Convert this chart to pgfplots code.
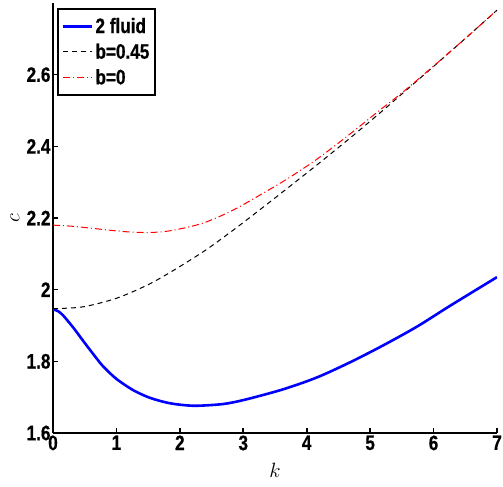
\documentclass[border=0pt]{standalone}
\usepackage{pgfplots}
\pgfplotsset{compat=1.18}
\usepackage{fontspec}
\setmainfont{Liberation Sans}
\newfontfamily\figfont[FakeStretch=0.82, BoldFeatures={FakeBold=0.6}]{Liberation Sans}

% phase speed c against wavenumber k
\pgfplotstableread{
k c
0    1.945
0.08 1.940
0.16 1.928
0.32 1.894
0.48 1.856
0.64 1.819
0.79 1.786
1.0  1.751
1.27 1.719
1.53 1.698
1.79 1.685
2.0  1.679
2.26 1.676
2.69 1.681
3.05 1.694
3.63 1.722
4.16 1.755
4.68 1.797
5.2  1.844
5.74 1.897
6.26 1.955
7.0  2.035
}\twofluid

\pgfplotstableread{
k c
0    1.947
0.47 1.952
1.0  1.976
1.5  2.014
1.92 2.056
2.42 2.112
2.9  2.174
3.37 2.238
3.71 2.285
4.21 2.355
4.71 2.427
5.16 2.494
5.5  2.546
6.0  2.623
6.5  2.701
7.0  2.780
}\bfortyfive

\pgfplotstableread{
k c
0    2.180
0.3  2.177
0.63 2.171
1.0  2.164
1.3  2.160
1.6  2.160
1.9  2.166
2.37 2.186
2.84 2.222
3.32 2.270
3.71 2.311
4.16 2.364
4.68 2.434
5.16 2.502
5.5  2.549
6.0  2.624
6.5  2.701
7.0  2.780
}\bzero

\begin{document}
\begin{tikzpicture}
\useasboundingbox (-53bp,-54bp) rectangle (450bp,433bp);
\begin{axis}[
  at={(0,0)}, anchor=south west,
  scale only axis,
  width=444bp, height=430bp,
  xmin=0, xmax=7, ymin=1.6, ymax=2.8,
  axis x line*=bottom, axis y line*=left,
  axis line style={line width=1.8bp, -},
  xtick={0,1,...,7},
  ytick={1.6,1.8,2.0,2.2,2.4,2.6},
  tick align=inside,
  major tick length=5bp,
  tick style={line width=1.6bp, black},
  /pgf/number format/assume math mode=true,
  xticklabel={\figfont\bfseries\pgfmathprintnumber{\tick}},
  yticklabel={\figfont\bfseries\pgfmathprintnumber{\tick}},
  ticklabel style={font=\fontsize{21}{21}\selectfont},
  xticklabel style={yshift=1bp},
  yticklabel style={xshift=1bp},
  xlabel={$k$}, ylabel={$c$},
  every axis x label/.style={at={(axis description cs:0.5,0)}, yshift=-37bp,
    anchor=center, font=\fontsize{20}{20}\selectfont},
  every axis y label/.style={at={(axis description cs:0,0.5)}, xshift=-38bp,
    rotate=90, anchor=center, font=\fontsize{20}{20}\selectfont},
  legend style={at={(axis description cs:0,1)}, anchor=north west,
    xshift=4bp, yshift=-5bp, draw=black,
    line width=1.8bp, inner xsep=4bp, inner ysep=7bp,
    font=\figfont\fontsize{21}{21}\selectfont\bfseries,
    row sep=5bp},
  legend cell align=left,
  legend image code/.code={\draw[#1] (0bp,0bp) -- (29bp,0bp);},
]
\addplot[blue, line width=2.6bp, smooth] table {\twofluid};
\addlegendentry{2 fluid}
\addplot[black, line width=1bp, smooth, dash pattern=on 5bp off 4bp] table {\bfortyfive};
\addlegendentry{b=0.45}
\addplot[red, line width=1bp, smooth, dash pattern=on 7bp off 3bp on 1bp off 3bp] table {\bzero};
\addlegendentry{b=0}
\end{axis}
\end{tikzpicture}
\end{document}
